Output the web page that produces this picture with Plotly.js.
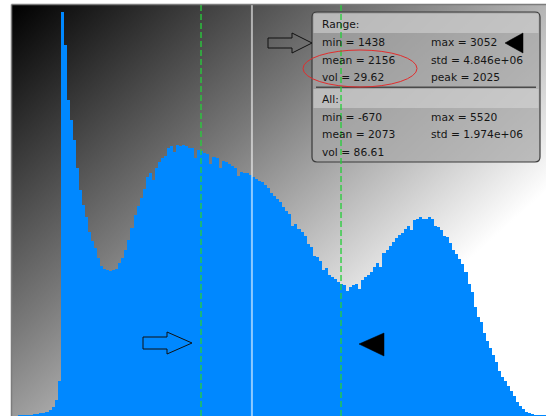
<!DOCTYPE html>
<html>
<head>
<meta charset="utf-8">
<script src="https://cdn.plot.ly/plotly-3.0.1.min.js"></script>
<style>html,body{margin:0;padding:0;background:#fff;}#chart{width:546px;height:416px;}</style>
</head>
<body>
<div id="chart"></div>
<script>
// ---- data ----
var binStart = -670;
var binSize = 35;
var counts = [
  1,1,1,1,1,2,2,3,3,4,6,9,16,
  35,404,371,316,296,276,248,226,211,199,184,175,168,158,150,147,146,145,146,147,
  153,158,166,176,188,201,210,218,227,239,243,236,248,254,258,260,268,270,264,271,
  270,271,270,268,268,258,266,265,263,262,252,259,258,248,255,254,252,250,248,240,
  244,243,243,241,239,237,235,234,231,228,223,220,217,214,209,205,202,190,192,187,
  184,180,172,169,160,159,155,146,148,141,139,137,134,132,131,125,129,131,132,127,
  136,139,141,144,149,153,149,163,166,170,174,178,181,183,187,190,186,196,197,199,
  197,197,199,197,190,189,186,180,179,173,166,162,157,152,144,132,124,109,99,94,
  83,75,68,61,54,45,39,35,30,25,20,14,10,7,4,3,2,1,1,1,1,1,1,1
];
var rangeNames  = ['min', 'max', 'mean', 'std', 'vol', 'peak'];
var rangeValues = ['1438', '3052', '2156', '4.846e+06', '29.62', '2025'];
var allNames    = ['min', 'max', 'mean', 'std', 'vol'];
var allValues   = ['-670', '5520', '2073', '1.974e+06', '86.61'];
var rangeMin = 1438, rangeMax = 3052, rangePeak = 2025;

// ---- helpers (pixel -> paper) ----
var L = 12, T = 5, W = 534, H = 411;
function px(x){ return (x - L) / W; }
function py(y){ return (416 - y) / H; }
function P(x, y){ return px(x) + ',' + py(y); }
function pathOf(pts){ return 'M' + pts.map(function(p){ return P(p[0], p[1]); }).join(' L') + ' Z'; }

var xs = counts.map(function(c, i){ return binStart + binSize * (i + 0.5); });

var trace = {
  type: 'bar', x: xs, y: counts, width: binSize,
  marker: {color: 'rgb(0,136,255)', line: {width: 0}},
  hoverinfo: 'skip'
};

// background gradient
var svg = '<svg xmlns="http://www.w3.org/2000/svg" width="534" height="411" viewBox="0 0 534 411" preserveAspectRatio="none">' +
  '<defs><linearGradient id="g" gradientUnits="userSpaceOnUse" x1="0" y1="0" x2="329" y2="369">' +
  '<stop offset="0" stop-color="#000"/><stop offset="0.5" stop-color="#7a7a7a"/><stop offset="1" stop-color="#fff"/>' +
  '</linearGradient></defs><rect width="534" height="411" fill="url(#g)"/></svg>';
var bgSrc = 'data:image/svg+xml;charset=utf-8,' + encodeURIComponent(svg);

var shapes = [];
// info box
var bx0 = 312, bx1 = 540, by0 = 12, by1 = 162, r = 5;
shapes.push({type: 'path', xref: 'paper', yref: 'paper', layer: 'above',
  path: 'M' + P(bx0 + r, by0) + ' L' + P(bx1 - r, by0) + ' Q' + P(bx1, by0) + ' ' + P(bx1, by0 + r) +
        ' L' + P(bx1, by1 - r) + ' Q' + P(bx1, by1) + ' ' + P(bx1 - r, by1) +
        ' L' + P(bx0 + r, by1) + ' Q' + P(bx0, by1) + ' ' + P(bx0, by1 - r) +
        ' L' + P(bx0, by0 + r) + ' Q' + P(bx0, by0) + ' ' + P(bx0 + r, by0) + ' Z',
  fillcolor: 'rgba(168,168,168,0.72)', line: {color: '#3a3a3a', width: 1.2}});
// header bands
shapes.push({type: 'rect', xref: 'paper', yref: 'paper', layer: 'above',
  x0: px(313.5), x1: px(538.5), y0: py(33), y1: py(13.5), fillcolor: 'rgba(220,220,220,0.5)', line: {width: 0}});
shapes.push({type: 'rect', xref: 'paper', yref: 'paper', layer: 'above',
  x0: px(313.5), x1: px(538.5), y0: py(108), y1: py(89), fillcolor: 'rgba(220,220,220,0.5)', line: {width: 0}});
shapes.push({type: 'line', xref: 'paper', yref: 'paper', layer: 'above',
  x0: px(316), x1: px(536), y0: py(87.3), y1: py(87.3), line: {color: '#4a4a4a', width: 1.5}});
// vertical markers
[rangeMin, rangeMax].forEach(function(v){
  shapes.push({type: 'line', xref: 'x', yref: 'paper', layer: 'above', x0: v, x1: v, y0: 0, y1: 1,
    line: {color: 'rgba(40,205,60,0.9)', width: 1.5, dash: '6px,3px'}});
});
shapes.push({type: 'line', xref: 'x', yref: 'paper', layer: 'above', x0: rangePeak, x1: rangePeak, y0: 0, y1: 1,
  line: {color: 'rgba(255,255,255,0.55)', width: 2}});
// frame
shapes.push({type: 'line', xref: 'paper', yref: 'paper', layer: 'above',
  x0: px(11.5), x1: px(11.5), y0: py(4.5), y1: py(420), line: {color: '#7c7c7c', width: 1.5}});
shapes.push({type: 'line', xref: 'paper', yref: 'paper', layer: 'above',
  x0: px(11.5), x1: px(550), y0: py(4.5), y1: py(4.5), line: {color: '#7c7c7c', width: 1.5}});
// red ellipse
shapes.push({type: 'circle', xref: 'paper', yref: 'paper', layer: 'above',
  x0: px(303), x1: px(417), y0: py(87), y1: py(50), line: {color: 'rgb(225,45,45)', width: 1}});
// arrows
shapes.push({type: 'path', xref: 'paper', yref: 'paper', layer: 'above',
  path: pathOf([[268,38],[292,38],[292,33],[312,43],[292,53],[292,48],[268,48]]),
  line: {color: '#111', width: 1}, fillcolor: 'rgba(0,0,0,0)'});
shapes.push({type: 'path', xref: 'paper', yref: 'paper', layer: 'above',
  path: pathOf([[143,337],[167,337],[167,332],[192,343],[167,354],[167,349],[143,349]]),
  line: {color: '#111', width: 1}, fillcolor: 'rgba(0,0,0,0)'});
shapes.push({type: 'path', xref: 'paper', yref: 'paper', layer: 'above',
  path: pathOf([[505,43],[523,33],[523,53]]), line: {color: '#000', width: 0.5}, fillcolor: '#000'});
shapes.push({type: 'path', xref: 'paper', yref: 'paper', layer: 'above',
  path: pathOf([[359,344],[384,333],[384,356]]), line: {color: '#000', width: 0.5}, fillcolor: '#000'});

// texts
var font = {family: 'DejaVu Sans, sans-serif', size: 10.7, color: '#151515'};
var ann = [];
function txt(s, x, y){
  ann.push({text: s, xref: 'paper', yref: 'paper', x: px(x), y: py(y), xanchor: 'left', yanchor: 'middle',
    showarrow: false, font: font, borderpad: 0});
}
var colX = [321, 430];
var rowY = [42.7, 60.3, 77.3];
txt('Range:', colX[0], 24.5);
rangeNames.forEach(function(n, i){
  txt(n + ' = ' + rangeValues[i], colX[i % 2], rowY[Math.floor(i / 2)]);
});
var rowY2 = [117.3, 135, 152.3];
txt('All:', colX[0], 99.5);
allNames.forEach(function(n, i){
  txt(n + ' = ' + allValues[i], colX[i % 2], rowY2[Math.floor(i / 2)]);
});

var layout = {
  width: 546, height: 416,
  margin: {l: L, r: 0, t: T, b: 0, pad: 0},
  paper_bgcolor: '#ffffff', plot_bgcolor: 'rgba(0,0,0,0)',
  showlegend: false, bargap: 0,
  xaxis: {range: [-741, 5415], showgrid: false, zeroline: false, showticklabels: false, ticks: '', showline: false},
  yaxis: {range: [0, 411], showgrid: false, zeroline: false, showticklabels: false, ticks: '', showline: false},
  images: [{source: bgSrc, xref: 'paper', yref: 'paper', x: 0, y: 1, sizex: 1, sizey: 1,
    sizing: 'stretch', xanchor: 'left', yanchor: 'top', layer: 'below'}],
  shapes: shapes,
  annotations: ann
};
Plotly.newPlot('chart', [trace], layout, {staticPlot: true, displayModeBar: false});
</script>
</body>
</html>
